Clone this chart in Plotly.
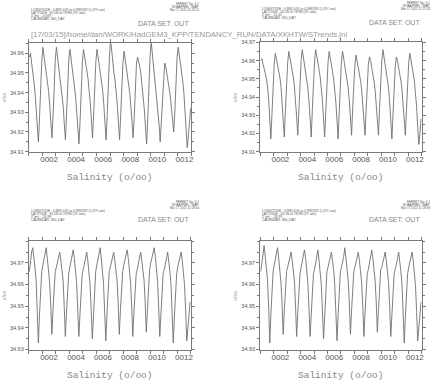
import plotly.graph_objects as go

W, H = 442, 384

# ---------------- data (monthly means, 12 years, 360_DAY calendar) ----------------
months_per_year = 12
years = list(range(1, 13))
year_ticks = [2, 4, 6, 8, 10, 12]
year_labels = ["0002", "0004", "0006", "0008", "0010", "0012"]

sal_z0639 = [
    34.958, 34.960, 34.955, 34.951, 34.946, 34.940, 34.933, 34.924, 34.915, 34.927, 34.944, 34.956,
    34.963, 34.959, 34.954, 34.950, 34.946, 34.941, 34.934, 34.925, 34.917, 34.928, 34.945, 34.957,
    34.963, 34.958, 34.955, 34.950, 34.945, 34.940, 34.933, 34.924, 34.916, 34.929, 34.946, 34.957,
    34.962, 34.957, 34.953, 34.949, 34.944, 34.938, 34.930, 34.922, 34.914, 34.926, 34.943, 34.955,
    34.962, 34.959, 34.955, 34.951, 34.947, 34.942, 34.935, 34.926, 34.917, 34.929, 34.946, 34.956,
    34.962, 34.958, 34.954, 34.950, 34.946, 34.941, 34.934, 34.925, 34.916, 34.928, 34.945, 34.958,
    34.967, 34.960, 34.954, 34.950, 34.946, 34.941, 34.934, 34.924, 34.916, 34.929, 34.945, 34.955,
    34.961, 34.957, 34.953, 34.949, 34.945, 34.940, 34.933, 34.924, 34.917, 34.928, 34.944, 34.955,
    34.958, 34.956, 34.953, 34.949, 34.944, 34.938, 34.931, 34.922, 34.914, 34.927, 34.945, 34.958,
    34.966, 34.960, 34.954, 34.949, 34.944, 34.939, 34.932, 34.924, 34.915, 34.926, 34.940, 34.951,
    34.955, 34.953, 34.950, 34.946, 34.942, 34.938, 34.933, 34.927, 34.920, 34.930, 34.946, 34.958,
    34.963, 34.959, 34.955, 34.951, 34.946, 34.940, 34.932, 34.922, 34.912, 34.918, 34.925, 34.932,
]

sal_z1145 = [
    34.960, 34.961, 34.958, 34.956, 34.953, 34.950, 34.946, 34.939, 34.928, 34.917, 34.931, 34.948,
    34.958, 34.964, 34.961, 34.957, 34.954, 34.951, 34.946, 34.938, 34.928, 34.918, 34.933, 34.949,
    34.959, 34.965, 34.962, 34.958, 34.955, 34.951, 34.946, 34.939, 34.929, 34.919, 34.934, 34.950,
    34.960, 34.966, 34.962, 34.958, 34.954, 34.950, 34.945, 34.938, 34.928, 34.918, 34.933, 34.949,
    34.960, 34.966, 34.963, 34.959, 34.955, 34.951, 34.946, 34.938, 34.928, 34.918, 34.932, 34.948,
    34.959, 34.965, 34.962, 34.958, 34.954, 34.950, 34.945, 34.937, 34.927, 34.917, 34.932, 34.949,
    34.960, 34.965, 34.961, 34.957, 34.954, 34.950, 34.945, 34.938, 34.929, 34.919, 34.934, 34.950,
    34.958, 34.963, 34.960, 34.957, 34.953, 34.949, 34.944, 34.937, 34.928, 34.919, 34.933, 34.949,
    34.958, 34.962, 34.960, 34.956, 34.953, 34.949, 34.944, 34.937, 34.928, 34.919, 34.934, 34.950,
    34.960, 34.966, 34.962, 34.958, 34.954, 34.950, 34.945, 34.937, 34.927, 34.917, 34.931, 34.948,
    34.957, 34.962, 34.960, 34.956, 34.953, 34.949, 34.944, 34.937, 34.928, 34.919, 34.933, 34.949,
    34.959, 34.964, 34.961, 34.957, 34.953, 34.949, 34.943, 34.935, 34.924, 34.914, 34.920, 34.928,
]

sal_z2698 = [
    34.966, 34.971, 34.975, 34.977, 34.973, 34.968, 34.962, 34.950, 34.933, 34.946, 34.960, 34.966,
    34.969, 34.972, 34.974, 34.977, 34.972, 34.967, 34.961, 34.951, 34.937, 34.948, 34.961, 34.966,
    34.968, 34.970, 34.973, 34.975, 34.971, 34.967, 34.962, 34.950, 34.936, 34.947, 34.960, 34.965,
    34.968, 34.971, 34.973, 34.976, 34.972, 34.967, 34.961, 34.949, 34.936, 34.946, 34.959, 34.965,
    34.967, 34.970, 34.972, 34.975, 34.971, 34.966, 34.960, 34.948, 34.935, 34.945, 34.959, 34.966,
    34.969, 34.972, 34.974, 34.977, 34.972, 34.967, 34.960, 34.947, 34.934, 34.946, 34.960, 34.966,
    34.968, 34.970, 34.972, 34.975, 34.971, 34.967, 34.962, 34.951, 34.937, 34.948, 34.961, 34.966,
    34.969, 34.971, 34.973, 34.976, 34.972, 34.967, 34.961, 34.950, 34.936, 34.947, 34.960, 34.965,
    34.967, 34.970, 34.972, 34.975, 34.971, 34.967, 34.962, 34.952, 34.938, 34.948, 34.961, 34.967,
    34.970, 34.972, 34.974, 34.977, 34.973, 34.968, 34.962, 34.950, 34.936, 34.946, 34.959, 34.965,
    34.967, 34.969, 34.972, 34.975, 34.971, 34.966, 34.960, 34.948, 34.933, 34.945, 34.959, 34.965,
    34.968, 34.970, 34.972, 34.975, 34.971, 34.966, 34.960, 34.948, 34.934, 34.940, 34.946, 34.952,
]

sal_z2899 = [
    34.966, 34.971, 34.975, 34.978, 34.973, 34.968, 34.962, 34.950, 34.933, 34.946, 34.960, 34.966,
    34.969, 34.972, 34.975, 34.977, 34.972, 34.967, 34.961, 34.951, 34.937, 34.948, 34.961, 34.966,
    34.968, 34.970, 34.972, 34.975, 34.971, 34.967, 34.962, 34.950, 34.936, 34.947, 34.960, 34.965,
    34.968, 34.971, 34.973, 34.976, 34.972, 34.967, 34.961, 34.949, 34.936, 34.946, 34.959, 34.965,
    34.967, 34.970, 34.973, 34.976, 34.971, 34.966, 34.960, 34.948, 34.935, 34.945, 34.959, 34.966,
    34.968, 34.971, 34.973, 34.975, 34.971, 34.967, 34.960, 34.947, 34.934, 34.946, 34.960, 34.966,
    34.968, 34.970, 34.973, 34.977, 34.972, 34.967, 34.962, 34.951, 34.937, 34.948, 34.961, 34.966,
    34.968, 34.970, 34.972, 34.975, 34.971, 34.967, 34.961, 34.950, 34.936, 34.947, 34.960, 34.965,
    34.967, 34.970, 34.973, 34.976, 34.972, 34.967, 34.962, 34.952, 34.938, 34.948, 34.961, 34.967,
    34.968, 34.971, 34.973, 34.975, 34.971, 34.967, 34.961, 34.950, 34.936, 34.946, 34.959, 34.965,
    34.967, 34.969, 34.972, 34.975, 34.971, 34.966, 34.960, 34.948, 34.933, 34.945, 34.959, 34.965,
    34.968, 34.970, 34.972, 34.975, 34.971, 34.966, 34.960, 34.948, 34.934, 34.940, 34.946, 34.952,
]

depth_labels = ["-0.639", "-11.45", "-26.98", "-28.99"]
plot_times = ["Mar 17 2015 11:20:21", "Mar 17 2015 11:21:28", "Mar 17 2015 11:28:04", "Mar 17 2015 11:28:09"]
y_ranges = [(34.91, 34.965), (34.91, 34.97), (34.93, 34.98), (34.93, 34.98)]
y_tick_vals = [[34.91, 34.92, 34.93, 34.94, 34.95, 34.96],
               [34.91, 34.92, 34.93, 34.94, 34.95, 34.96, 34.97],
               [34.93, 34.94, 34.95, 34.96, 34.97],
               [34.93, 34.94, 34.95, 34.96, 34.97]]
series = [sal_z0639, sal_z1145, sal_z2698, sal_z2899]

# time coordinate: mid-month, year units (axis starts at start of year 1)
time_axis = [y + (m + 0.5) / months_per_year for y in years for m in range(months_per_year)]

# ---------------- layout in pixels ----------------
frames = [  # (left, right, top, bottom) in px
    (29, 192.5, 41, 151),
    (262, 424.5, 40, 151),
    (29, 192, 242, 352),
    (262, 424.5, 242, 352),
]

def px(x):
    return x / W

def py(y):
    return 1 - y / H

GRAY = "#7a7a7a"

fig = go.Figure()
layout = dict(width=W, height=H, margin=dict(l=0, r=0, t=0, b=0),
              paper_bgcolor="white", plot_bgcolor="white", showlegend=False)
annotations = []

for i, (l, r, t, b) in enumerate(frames):
    k = "" if i == 0 else str(i + 1)
    fig.add_trace(go.Scatter(x=time_axis, y=series[i], mode="lines",
                             line=dict(color="#707070", width=0.9),
                             xaxis="x" + k, yaxis="y" + k, hoverinfo="skip"))
    layout["xaxis" + k] = dict(
        domain=[px(l), px(r)], anchor="y" + k, range=[1, 13],
        tickmode="array", tickvals=[v + 0.5 for v in year_ticks], ticktext=year_labels,
        ticks="", ticklen=0, tickfont=dict(family="Liberation Sans", size=8, color="#555555"),
        showline=True, linecolor=GRAY, linewidth=1, mirror="allticks",
        showgrid=False, zeroline=False,
        minor=dict(tickmode="array", tickvals=list(range(1, 14)), ticks="outside",
                   ticklen=3, tickcolor=GRAY, showgrid=False),
    )
    y0, y1 = y_ranges[i]
    layout["yaxis" + k] = dict(
        domain=[py(b), py(t)], anchor="x" + k, range=[y0, y1],
        tickmode="array", tickvals=y_tick_vals[i], tickformat=".2f",
        ticks="outside", ticklen=3, tickcolor=GRAY,
        tickfont=dict(family="Liberation Sans", size=5.5, color="#555555"),
        showline=True, linecolor=GRAY, linewidth=1, mirror="allticks",
        showgrid=False, zeroline=False,
        minor=dict(dtick=0.005, tick0=y0, ticks="outside", ticklen=2, tickcolor=GRAY, showgrid=False),
    )
    cx = (l + r) / 2
    # x axis title
    annotations.append(dict(x=px(cx), y=py(b + 26), xref="paper", yref="paper",
                            text="Salinity (o/oo)", showarrow=False,
                            font=dict(family="Liberation Mono", size=9.5, color="#888888"),
                            xanchor="center", yanchor="middle"))
    # y axis title
    annotations.append(dict(x=px(l - 25), y=py((t + b) / 2), xref="paper", yref="paper",
                            text="o/oo", showarrow=False, textangle=-90,
                            font=dict(family="Liberation Sans", size=5, color="#999999"),
                            xanchor="center", yanchor="middle"))
    # header block (left)
    hdr_top = t - 34 if i < 2 else t - 31
    hdr = ["LONGITUDE : 0.8W(-0.8) to 0.9W(359.1) (XY ave)",
           "LATITUDE : 63.1N to 78.9N (XY ave)",
           "Z (m) : " + depth_labels[i],
           "CALENDAR: 360_DAY"]
    for j, line in enumerate(hdr):
        annotations.append(dict(x=px(l), y=py(hdr_top + j * 3), xref="paper", yref="paper",
                                text=line, showarrow=False,
                                font=dict(family="Liberation Sans", size=3.3, color="#555555"),
                                xanchor="left", yanchor="middle"))
    # ferret stamp (right)
    stamp_top = t - 40
    stamp = ["FERRET Ver. 6.1", "NOAA/PMEL TMAP", plot_times[i]]
    for j, line in enumerate(stamp):
        annotations.append(dict(x=px(r + 10), y=py(stamp_top + j * 3), xref="paper", yref="paper",
                                text=line, showarrow=False,
                                font=dict(family="Liberation Sans", size=3, color="#555555"),
                                xanchor="right", yanchor="middle"))
    annotations.append(dict(x=px(r), y=py(t - 20 if i < 2 else t - 22), xref="paper", yref="paper",
                            text="DATA SET: OUT", showarrow=False,
                            font=dict(family="Liberation Sans", size=7, color="#888888"),
                            xanchor="right", yanchor="middle"))

annotations.append(dict(x=px(190), y=py(32), xref="paper", yref="paper",
                        text="[17/03/15]/home/dan/WORK/HadGEM3_KPP/TENDANCY_RUN/DATA/XKHTW/STrends.jnl",
                        showarrow=False, font=dict(family="Liberation Sans", size=7.8, color="#999999"),
                        xanchor="center", yanchor="middle"))

layout["annotations"] = annotations
fig.update_layout(**layout)
fig.write_html("out.html", config={"displayModeBar": False},
               post_script="document.body.style.margin='0px';document.body.style.overflow='hidden';")
